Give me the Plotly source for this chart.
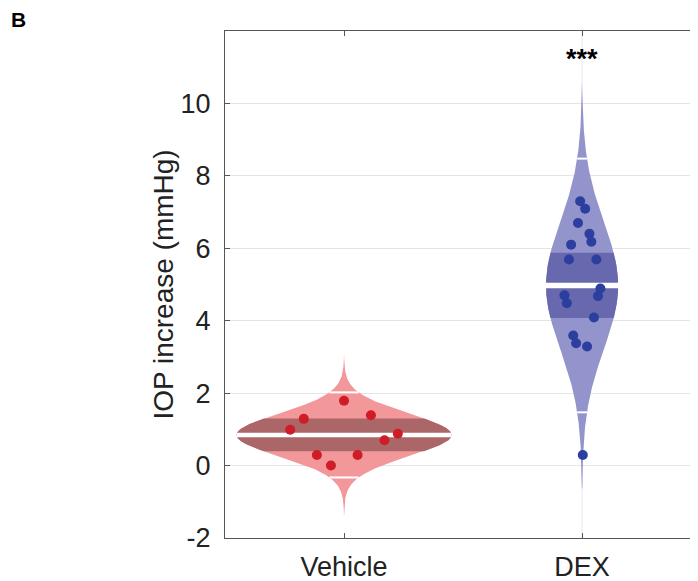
import numpy as np
import plotly.graph_objects as go

# ---------------- data ----------------
categories = ["Vehicle", "DEX"]
vehicle_values = [0.99, 1.29, 0.29, 0.00, 1.79, 0.29, 1.39, 0.70, 0.88]
vehicle_jitter = [-0.226, -0.169, -0.114, -0.055, 0.0, 0.057, 0.113, 0.170, 0.226]
dex_values = [7.30, 7.09, 6.70, 6.40, 6.18, 6.10, 5.69, 5.69, 4.89, 4.68,
              4.70, 4.48, 4.09, 3.59, 3.38, 3.29, 0.29]
dex_jitter = [-0.008, 0.013, -0.017, 0.031, 0.039, -0.046, -0.055, 0.060, 0.077, 0.067,
              -0.074, -0.064, 0.050, -0.037, -0.025, 0.021, 0.003]
y_ticks = [-2, 0, 2, 4, 6, 8, 10]
y_tick_labels = ["-2", "0", "2", "4", "6", "8", "10"]
significance = ["", "***"]
y_label = "IOP increase (mmHg)"
panel_label = "B"

# two-sided 95% t critical values by degrees of freedom
T975 = {8: 2.306, 16: 2.120}

# ---------------- styles ----------------
styles = [
    dict(light="rgb(243,152,154)", dark="rgb(171,103,104)", point="rgb(208,28,38)",
         mean_w=4.5, span=3.8),
    dict(light="rgb(148,148,205)", dark="rgb(104,104,174)", point="rgb(44,62,158)",
         mean_w=5.5, span=3.2),
]
VIOLIN_SCALE = 0.666
FONT = "Liberation Sans, Arial, Helvetica, sans-serif"

groups = [(vehicle_values, vehicle_jitter), (dex_values, dex_jitter)]

fig = go.Figure()

def halfwidth(y, m, s):
    return VIOLIN_SCALE * np.exp(-0.5 * ((y - m) / s) ** 2) / (s * np.sqrt(2 * np.pi))

# faint vertical line at DEX
fig.add_trace(go.Scatter(x=[2, 2], y=[y_ticks[0], 12], mode="lines",
                         line=dict(color="rgba(160,160,220,0.25)", width=1),
                         hoverinfo="skip", showlegend=False))

for i, ((vals, jit), st) in enumerate(zip(groups, styles)):
    c = i + 1
    v = np.asarray(vals, dtype=float)
    n = len(v)
    m = v.mean()
    s = v.std(ddof=1)
    ci = T975[n - 1] * s / np.sqrt(n)

    # violin body
    ys = np.linspace(m - st["span"] * s, m + st["span"] * s, 600)
    hw = halfwidth(ys, m, s)
    fig.add_trace(go.Scatter(
        x=np.concatenate([c + hw, (c - hw)[::-1]]),
        y=np.concatenate([ys, ys[::-1]]),
        fill="toself", fillcolor=st["light"], mode="lines",
        line=dict(width=0, color=st["light"]), hoverinfo="skip", showlegend=False))

    # 95% CI band
    yb = np.linspace(m - ci, m + ci, 200)
    hb = halfwidth(yb, m, s)
    fig.add_trace(go.Scatter(
        x=np.concatenate([c + hb, (c - hb)[::-1]]),
        y=np.concatenate([yb, yb[::-1]]),
        fill="toself", fillcolor=st["dark"], mode="lines",
        line=dict(width=0, color=st["dark"]), hoverinfo="skip", showlegend=False))

    # +/- 2 SD white lines
    for yy in (m - 2 * s, m + 2 * s):
        w = halfwidth(yy, m, s)
        fig.add_trace(go.Scatter(x=[c - w, c + w], y=[yy, yy], mode="lines",
                                 line=dict(color="white", width=2),
                                 hoverinfo="skip", showlegend=False))
    # mean line
    w = halfwidth(m, m, s)
    fig.add_trace(go.Scatter(x=[c - w, c + w], y=[m, m], mode="lines",
                             line=dict(color="white", width=st["mean_w"]),
                             hoverinfo="skip", showlegend=False))

# data points
for i, ((vals, jit), st) in enumerate(zip(groups, styles)):
    c = i + 1
    fig.add_trace(go.Scatter(
        x=[c + j for j in jit], y=vals, mode="markers",
        marker=dict(color=st["point"], size=10, line=dict(width=0)),
        showlegend=False, name=categories[i]))

# significance stars
for i, txt in enumerate(significance):
    if txt:
        fig.add_annotation(x=i + 1, y=11.24, text="<b>%s</b>" % txt, showarrow=False,
                           font=dict(size=27, color="black", family=FONT),
                           xanchor="center", yanchor="middle")

fig.add_annotation(xref="paper", yref="paper", x=-0.436, y=1.022, text="<b>%s</b>" % panel_label,
                   showarrow=False, font=dict(size=21, color="black", family=FONT),
                   xanchor="center", yanchor="middle")

# y-axis title
fig.add_annotation(xref="paper", yref="paper", x=-0.131, y=0.5, text=y_label,
                   textangle=-90, showarrow=False,
                   font=dict(size=28, color="#222222", family=FONT),
                   xanchor="center", yanchor="middle")

# page body adds an 8px offset; figure is sized to fill the remaining window
fig.update_layout(
    width=690, height=573,
    margin=dict(l=217, r=0, t=23, b=43, autoexpand=False),
    paper_bgcolor="white", plot_bgcolor="white",
    font=dict(family=FONT, size=26, color="#222222"),
    showlegend=False,
)
fig.update_xaxes(
    range=[0.5, 2.487], tickvals=[1, 2], ticktext=categories,
    showline=True, linecolor="#555555", linewidth=1, mirror="ticks",
    ticks="inside", ticklen=5, tickcolor="#555555", ticklabelstandoff=5,
    showgrid=False, zeroline=False, tickfont=dict(size=27, color="#222222"),
    automargin=False,
)
fig.update_yaxes(
    range=[-2, 12], tickvals=y_ticks, ticktext=y_tick_labels,
    showline=True, linecolor="#555555", linewidth=1,
    ticks="inside", ticklen=5, tickcolor="#555555", ticklabelstandoff=8,
    showgrid=True, gridcolor="#e4e4e4", gridwidth=1, zeroline=False,
    tickfont=dict(size=27, color="#222222"),
    automargin=False,
)

fig.write_html("out.html")
